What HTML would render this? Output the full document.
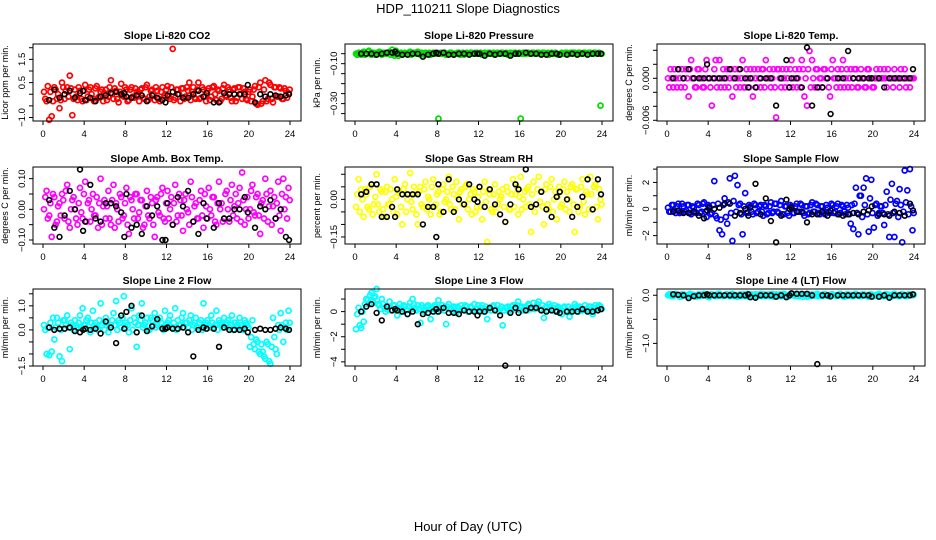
<!DOCTYPE html>
<html><head><meta charset="utf-8"><style>
html,body{margin:0;padding:0;background:#fff}
svg{display:block;font-family:"Liberation Sans",Arial,sans-serif}
</style></head><body>
<svg id="chart" width="936" height="540" viewBox="0 0 936 540">
<rect x="0" y="0" width="936" height="540" fill="#fff"/>
<text x="468" y="13" text-anchor="middle" font-size="13">HDP_110211  Slope Diagnostics</text>
<text x="468" y="531" text-anchor="middle" font-size="13">Hour of Day (UTC)</text>
</svg>
<script>
const hours = [
0.1,0.35,0.6,0.85,1.1,1.35,1.6,1.85,2.1,2.35,2.6,2.85,
3.1,3.35,3.6,3.85,4.1,4.35,4.6,4.85,5.1,5.35,5.6,5.85,
6.1,6.35,6.6,6.85,7.1,7.35,7.6,7.85,8.1,8.35,8.6,8.85,
9.1,9.35,9.6,9.85,10.1,10.35,10.6,10.85,11.1,11.35,11.6,11.85,
12.1,12.35,12.6,12.85,13.1,13.35,13.6,13.85,14.1,14.35,14.6,14.85,
15.1,15.35,15.6,15.85,16.1,16.35,16.6,16.85,17.1,17.35,17.6,17.85,
18.1,18.35,18.6,18.85,19.1,19.35,19.6,19.85,20.1,20.35,20.6,20.85,
21.1,21.35,21.6,21.85,22.1,22.35,22.6,22.85,23.1,23.35,23.6,23.85];
const hours2 = [
0.22,0.47,0.72,0.97,1.22,1.47,1.72,1.97,2.22,2.47,2.72,2.97,
3.22,3.47,3.72,3.97,4.22,4.47,4.72,4.97,5.22,5.47,5.72,5.97,
6.22,6.47,6.72,6.97,7.22,7.47,7.72,7.97,8.22,8.47,8.72,8.97,
9.22,9.47,9.72,9.97,10.22,10.47,10.72,10.97,11.22,11.47,11.72,11.97,
12.22,12.47,12.72,12.97,13.22,13.47,13.72,13.97,14.22,14.47,14.72,14.97,
15.22,15.47,15.72,15.97,16.22,16.47,16.72,16.97,17.22,17.47,17.72,17.97,
18.22,18.47,18.72,18.97,19.22,19.47,19.72,19.97,20.22,20.47,20.72,20.97,
21.22,21.47,21.72,21.97,22.22,22.47,22.72,22.97,23.22,23.47,23.72,23.97];
const blackHours = [
0.6,1.1,1.6,2.1,2.6,3.1,3.6,3.9,4.1,4.6,5.1,5.6,
6.1,6.6,7.1,7.6,7.9,8.1,8.6,9.1,9.6,10.1,10.6,11.1,
11.6,11.9,12.1,12.6,13.1,13.6,14.1,14.6,15.1,15.6,15.9,16.6,
17.1,17.6,18.1,18.6,19.1,19.6,19.9,20.6,21.1,21.6,22.1,22.6,
23.1,23.6,23.9];
const xTicks = [0,4,8,12,16,20,24];

const co2Vals = [
0.1,-0.3,-1.1,-0.95,0.3,-0.2,-0.6,0.5,-0.2,0.3,0.8,-0.9,
0.2,-0.25,0.15,-0.3,0.4,-0.1,0.3,-0.2,0.25,-0.15,0.1,-0.3,
0.2,-0.1,0.6,-0.2,0.15,-0.35,0.45,-0.1,0.2,-0.25,0.3,-0.15,
0.1,-0.3,0.25,-0.2,0.4,-0.1,0.2,-0.25,0.15,-0.3,0.3,-0.05,
0.35,-0.2,1.95,-0.15,0.2,-0.3,0.25,-0.1,0.15,-0.25,0.3,-0.2,
0.5,-0.15,0.2,-0.3,0.25,-0.1,0.35,-0.25,0.15,-0.2,0.4,-0.1,
0.2,-0.3,0.25,-0.15,0.3,-0.2,0.1,-0.25,0.2,-0.1,0.35,-0.45,
0.5,-0.3,0.6,-0.2,0.4,-0.35,0.3,-0.1,0.25,-0.2,0.15,0.05];
const co2Vals2 = [
-0.2,0.35,0.1,-0.3,0.2,0.0,-0.25,0.3,0.15,-0.1,0.25,-0.2,
-0.1,0.3,-0.2,0.15,-0.25,0.2,0.0,-0.3,0.35,-0.1,0.2,0.05,
-0.25,0.3,0.0,0.25,-0.2,0.1,-0.05,0.3,-0.3,0.2,-0.1,0.25,
0.0,0.2,-0.15,0.3,-0.25,0.15,0.0,0.3,-0.2,0.1,-0.15,0.2,
-0.1,0.3,-0.25,0.2,0.0,0.25,-0.2,0.3,0.5,0.1,-0.15,0.2,
-0.2,0.3,-0.1,0.15,-0.25,0.3,0.0,0.2,-0.3,0.25,-0.05,0.3,
-0.15,0.2,-0.3,0.3,0.0,0.25,-0.2,0.1,-0.3,0.2,-0.4,0.3,
-0.4,0.2,-0.3,0.5,-0.2,0.3,-0.1,0.3,-0.2,0.25,-0.15,0.2];
const co2Black = [
-0.25,0.2,-0.15,0.0,0.15,-0.15,0.05,0.15,-0.25,-0.15,-0.3,-0.1,
-0.05,0.05,0.1,0.0,0.05,-0.1,-0.15,-0.05,-0.05,-0.3,-0.05,-0.15,
-0.25,-0.35,-0.05,0.1,0.0,-0.15,-0.15,0.0,0.15,-0.1,0.05,-0.35,
-0.35,0.05,0.0,0.0,0.0,0.0,0.4,-0.35,0.0,-0.1,0.0,-0.05,
-0.1,-0.05,0.0];

const presVals = [
-0.05,-0.045,-0.055,-0.04,-0.05,-0.035,-0.055,-0.045,-0.05,-0.04,-0.055,-0.045,
-0.05,-0.04,-0.03,-0.06,-0.045,-0.05,-0.055,-0.045,-0.05,-0.04,-0.05,-0.045,
-0.04,-0.055,-0.05,-0.045,-0.05,-0.055,-0.045,-0.05,-0.375,-0.045,-0.05,-0.055,
-0.05,-0.045,-0.055,-0.05,-0.045,-0.05,-0.055,-0.045,-0.05,-0.045,-0.05,-0.045,
-0.05,-0.055,-0.045,-0.05,-0.045,-0.05,-0.055,-0.045,-0.05,-0.045,-0.05,-0.055,
-0.045,-0.05,-0.045,-0.05,-0.375,-0.045,-0.05,-0.045,-0.05,-0.045,-0.05,-0.045,
-0.05,-0.045,-0.05,-0.055,-0.045,-0.05,-0.05,-0.055,-0.045,-0.05,-0.045,-0.05,
-0.05,-0.045,-0.05,-0.045,-0.05,-0.045,-0.05,-0.045,-0.05,-0.045,-0.05,-0.31];
const presVals2 = [
-0.055,-0.05,-0.045,-0.055,-0.04,-0.05,-0.045,-0.055,-0.045,-0.05,-0.045,-0.05,
-0.045,-0.055,-0.05,-0.035,-0.06,-0.045,-0.05,-0.05,-0.045,-0.055,-0.045,-0.05,
-0.05,-0.045,-0.055,-0.05,-0.045,-0.05,-0.05,-0.045,-0.05,-0.05,-0.045,-0.05,
-0.045,-0.05,-0.05,-0.045,-0.055,-0.045,-0.05,-0.05,-0.045,-0.05,-0.045,-0.05,
-0.045,-0.05,-0.05,-0.045,-0.05,-0.045,-0.05,-0.05,-0.045,-0.05,-0.045,-0.05,
-0.05,-0.045,-0.05,-0.045,-0.05,-0.05,-0.045,-0.05,-0.045,-0.05,-0.045,-0.05,
-0.045,-0.05,-0.045,-0.05,-0.05,-0.045,-0.055,-0.05,-0.05,-0.045,-0.05,-0.045,
-0.045,-0.05,-0.045,-0.05,-0.045,-0.05,-0.045,-0.05,-0.045,-0.05,-0.045,-0.05];
const presBlack = [
-0.05,-0.05,-0.05,-0.055,-0.05,-0.045,-0.045,-0.04,-0.05,-0.055,-0.055,-0.05,
-0.05,-0.065,-0.055,-0.05,-0.045,-0.05,-0.045,-0.055,-0.055,-0.05,-0.05,-0.055,
-0.05,-0.05,-0.05,-0.06,-0.05,-0.055,-0.05,-0.05,-0.06,-0.05,-0.05,-0.045,
-0.05,-0.05,-0.055,-0.055,-0.05,-0.05,-0.055,-0.055,-0.05,-0.055,-0.05,-0.055,
-0.05,-0.05,-0.05];

const tempVals = [
0,0.0013,-0.0013,0,0.0013,-0.0013,0,0.0013,-0.0026,0.0026,0,-0.0013,
0.0013,0,-0.0013,0.0026,0,-0.0039,0.0013,-0.0013,0.0026,0,-0.0013,0.0013,
0,-0.0026,0.0013,0,-0.0013,0.0026,-0.0013,0,0.0013,-0.0026,0,0.0013,
-0.0013,0.0013,0.0026,0,-0.0013,0.0013,-0.0056,0.0013,-0.0013,0,0.0013,-0.0013,
0.0026,0,-0.0013,0.0013,0.0026,-0.0026,-0.0039,0.0039,0.0026,-0.0013,0.0013,0,
-0.0013,0.0013,0,-0.0026,0.0026,0,0.0013,-0.0013,0.0026,0,-0.0013,0.0013,
0,0.0013,-0.0013,0.0013,0,-0.0013,0.0013,0,-0.0013,0.0013,0,0,
0.0013,-0.0013,0,0,0.0013,0,-0.0013,0,0.0013,0,-0.0013,0];
const tempVals2 = [
-0.0013,0,0.0013,-0.0013,0,0.0013,-0.0013,0,0.0013,0,-0.0013,0.0013,
0,-0.0013,0.0013,0,-0.0013,0,0.0026,0,-0.0013,0.0013,0,-0.0013,
0.0013,0,-0.0013,0.0013,0,-0.0013,0.0013,-0.0013,0,0.0013,-0.0013,0,
0.0013,-0.0013,0,0.0013,0,-0.0013,0.0013,0,0.0013,-0.0013,0,0.0013,
-0.0013,0.0013,0,-0.0013,0.0013,0,0.0013,-0.0013,0,0.0013,-0.0013,0,
0.0013,0,-0.0013,0.0013,0,-0.0013,0,0.0013,-0.0013,0.0013,0,-0.0013,
0.0013,-0.0013,0,0,-0.0013,0.0013,0,-0.0013,0,0,0.0013,0,
0,0.0013,0,-0.0013,0,0,0.0013,0,-0.0013,0,0,0];
const tempBlack = [
0,0.0013,0,0.0013,0,0,0,0.002,0,0,0,0,
0.0013,0,0.0013,0,-0.0013,0,-0.0013,0,0,0,-0.0039,0,
0.0026,-0.0013,0,0,-0.0013,0.0044,-0.0039,-0.0013,-0.0013,0,-0.0051,0,
0,0.0039,0,0,0,0,0,0,-0.0013,0,0,0,
0,0,0.0013];

const ambVals = [
0.0,0.06,-0.02,-0.09,0.04,-0.04,0.02,0.05,-0.03,0.08,-0.06,0.03,
0.0,-0.05,0.07,-0.03,0.09,0.02,-0.04,0.05,-0.02,-0.06,0.10,0.01,
-0.03,0.06,-0.05,0.08,0.02,-0.04,0.04,-0.02,0.07,-0.08,0.03,-0.03,
0.05,-0.01,0.03,-0.05,0.06,-0.03,0.02,-0.09,0.04,-0.02,0.07,-0.04,
0.06,0.0,-0.05,0.08,-0.02,0.03,-0.07,0.05,-0.01,0.09,-0.04,0.02,
-0.03,0.06,-0.06,0.01,0.07,-0.02,0.04,-0.05,0.09,0.02,-0.03,0.06,
-0.04,0.08,0.01,-0.03,0.07,0.12,-0.05,0.04,0.0,0.08,-0.02,0.05,
-0.08,0.03,0.10,-0.04,0.06,0.01,-0.03,0.09,-0.07,0.10,0.04,0.07];
const ambVals2 = [
0.04,-0.03,0.02,0.05,-0.05,0.01,-0.02,0.03,0.06,-0.04,0.0,0.04,
-0.03,0.02,-0.01,0.05,-0.04,0.03,0.0,-0.02,0.04,0.02,-0.05,0.03,
0.01,-0.03,0.03,-0.06,0.0,0.05,-0.03,0.02,-0.05,0.04,0.0,0.05,
-0.03,0.03,-0.06,0.01,-0.02,0.04,-0.05,0.03,-0.01,0.05,-0.03,0.02,
-0.03,0.04,0.02,-0.04,0.05,-0.02,0.03,0.0,-0.05,0.04,0.01,-0.03,
0.03,-0.02,0.05,-0.03,0.0,0.04,-0.04,0.02,0.0,-0.04,0.05,0.0,
0.03,-0.02,0.05,0.02,-0.04,0.03,0.0,-0.03,0.06,-0.01,0.04,-0.02,
0.02,-0.03,0.05,0.01,-0.05,0.04,0.02,-0.02,0.05,0.0,-0.03,0.03];
const ambBlack = [
0.03,-0.06,-0.09,-0.02,0.06,0.0,0.13,-0.07,-0.04,0.08,-0.03,-0.04,
0.02,0.02,0.01,-0.01,-0.09,0.05,-0.06,-0.05,-0.08,0.01,-0.02,0.01,
-0.1,-0.1,0.02,-0.05,0.04,0.01,0.06,-0.04,-0.08,0.02,-0.03,-0.06,
0.02,-0.03,-0.03,0.0,0.0,0.04,-0.01,-0.06,0.01,0.0,0.03,-0.03,
0.0,-0.09,-0.1];

const rhVals = [
-0.03,0.08,0.04,-0.07,0.02,-0.04,0.06,-0.02,0.1,-0.05,0.03,-0.07,
0.05,-0.02,0.0,0.08,-0.06,0.03,-0.1,0.06,0.0,0.105,-0.04,0.02,
-0.1,0.05,-0.03,0.07,0.01,-0.06,0.08,-0.02,0.03,-0.05,0.06,0.0,
0.09,-0.04,0.02,0.07,-0.08,0.04,-0.02,0.06,0.0,-0.06,0.03,-0.03,
0.05,-0.08,0.07,-0.17,0.02,-0.05,0.06,-0.02,0.0,0.04,-0.09,0.03,
-0.04,0.08,0.02,-0.06,0.09,0.0,-0.03,0.05,-0.13,0.07,-0.02,0.09,
0.03,-0.1,0.06,-0.04,0.08,0.0,-0.08,0.05,-0.02,0.07,0.03,-0.05,
0.06,-0.13,0.04,-0.03,0.08,-0.06,0.02,0.09,-0.04,0.06,-0.08,0.0];
const rhVals2 = [
0.02,-0.05,0.0,0.04,-0.03,0.05,-0.06,0.01,-0.02,0.04,-0.04,0.03,
-0.02,0.04,-0.05,0.01,0.03,-0.03,0.04,-0.05,0.02,-0.01,0.05,-0.06,
0.03,-0.02,0.04,-0.04,0.0,0.05,-0.03,0.02,-0.06,0.04,-0.01,0.03,
-0.02,0.05,-0.04,0.01,0.03,-0.02,0.05,-0.04,0.02,0.04,-0.05,0.01,
-0.03,0.03,-0.01,0.04,-0.04,0.02,-0.05,0.03,0.01,-0.03,0.05,-0.04,
0.02,-0.03,0.05,0.01,-0.04,0.03,0.04,-0.02,0.02,-0.05,0.04,-0.01,
-0.03,0.04,-0.02,0.05,-0.05,0.03,0.01,-0.03,0.04,-0.04,0.0,0.05,
-0.02,0.04,-0.05,0.05,-0.01,0.03,-0.04,0.02,0.05,-0.03,0.04,-0.02];
const rhBlack = [
0.02,0.03,0.06,0.06,-0.07,-0.07,-0.03,-0.07,0.04,0.02,0.02,0.02,
0.02,-0.1,-0.03,-0.03,-0.15,0.06,-0.05,0.08,-0.05,0.0,-0.02,0.06,
0.0,-0.01,0.05,-0.03,0.04,-0.02,-0.06,-0.09,-0.02,0.06,0.04,0.12,
-0.03,-0.02,0.03,-0.04,-0.07,0.01,0.03,0.0,-0.07,-0.03,0.01,0.08,
-0.04,0.08,0.02];

const sampleVals = [
0.1,-0.2,0.3,-0.3,0.4,-0.2,0.2,-0.1,0.3,-0.4,0.1,-0.3,
0.3,-0.2,0.5,-0.6,0.2,-0.3,2.1,-0.7,-1.6,-1.9,0.8,-1.1,
2.3,-2.4,2.5,1.8,0.4,-1.9,1.2,-0.3,0.2,-0.4,0.3,-0.2,
0.3,-0.5,0.2,-0.3,0.5,-0.2,0.4,-0.3,0.6,-0.4,0.2,-0.5,
0.2,-0.3,0.4,-0.2,0.3,-0.5,0.2,-0.3,0.5,-0.2,0.3,-0.4,
0.2,-0.4,0.1,-0.3,0.3,-0.2,0.4,-0.3,0.2,-0.4,0.1,-1.1,
-1.5,1.6,-1.9,1.0,1.6,2.3,-1.7,2.2,-1.4,0.4,-0.3,0.2,
-1.2,1.3,-2.1,1.9,-2.1,0.6,1.5,-2.5,2.9,1.4,3.0,-1.6];
const sampleVals2 = [
-0.2,0.3,-0.1,0.2,-0.3,0.4,-0.2,0.3,-0.3,0.2,-0.2,0.4,
-0.3,0.4,-0.2,0.3,-0.4,0.3,-0.5,0.4,-0.8,0.3,-0.6,0.5,
-0.3,0.6,-0.2,0.3,-0.4,0.2,-0.3,0.3,-0.2,0.4,-0.3,0.2,
-0.2,0.3,-0.4,0.2,-0.3,0.4,-0.2,0.3,-0.4,0.2,-0.3,0.3,
-0.3,0.2,-0.2,0.4,-0.3,0.2,-0.4,0.3,-0.2,0.4,-0.3,0.2,
-0.3,0.3,-0.2,0.4,-0.3,0.2,-0.4,0.3,-0.2,0.3,-0.4,0.3,
0.4,-0.3,1.0,-0.6,0.3,-0.4,0.8,-0.3,0.3,-0.5,0.2,-0.3,
0.3,-0.4,0.7,-0.3,0.4,-0.6,0.3,-0.2,0.5,-0.4,0.2,-0.3];
const sampleBlack = [
-0.2,-0.1,-0.3,-0.3,-0.2,-0.5,-0.7,-0.1,0.1,0.0,0.1,0.4,
0.4,-0.5,-0.3,0.0,-0.5,0.1,1.9,-0.4,0.8,-0.9,-2.5,-0.5,
0.7,0.0,0.1,-0.2,-0.2,-1.0,-0.4,-0.4,-0.2,-0.5,-0.1,-0.4,
-0.5,-0.4,-0.3,-0.4,-0.2,-0.1,0.2,-0.4,-0.4,-0.5,-0.2,-0.3,
-0.5,0.4,-0.1];

const line2Vals = [
0.2,-1.0,-1.05,-0.9,-0.4,0.5,-1.1,-1.3,0.4,0.6,-0.8,0.2,
0.4,0.1,0.6,0.9,0.2,0.5,-0.1,0.8,0.3,0.0,1.1,0.3,
0.5,-0.1,0.2,0.7,1.2,0.4,0.1,1.4,0.3,-0.1,0.9,0.5,
-0.7,0.6,1.1,0.2,0.5,0.0,0.4,0.7,0.2,0.5,0.1,0.8,
0.3,0.6,0.1,0.9,0.4,0.2,0.7,0.3,0.1,0.6,0.2,0.5,
0.1,0.4,1.1,0.3,0.2,0.6,0.1,0.8,0.4,0.2,0.5,0.3,
0.1,0.6,0.3,0.2,0.5,0.1,0.4,0.2,-0.7,0.4,-0.8,-0.5,
-1.0,-0.9,-1.2,-0.6,-1.4,0.5,-0.8,0.2,0.7,-0.5,0.3,0.8];
const line2Vals2 = [
0.0,0.1,0.3,0.5,0.1,0.3,0.0,0.4,0.2,0.1,0.3,0.0,
0.2,0.3,0.1,0.2,0.4,0.0,0.3,0.2,0.1,0.4,0.2,0.0,
0.3,0.1,0.4,0.2,0.0,0.3,0.5,0.1,0.2,0.4,0.0,0.3,
0.2,0.4,0.1,0.3,0.0,0.5,0.2,0.1,0.4,0.3,0.0,0.2,
0.4,0.1,0.3,0.0,0.2,0.5,0.1,0.3,0.4,0.0,0.3,0.1,
0.3,0.0,0.2,0.4,0.1,0.3,0.2,0.0,0.3,0.1,0.2,0.4,
0.2,0.0,0.3,0.1,0.2,0.0,0.3,0.1,-0.3,-0.6,-0.4,-0.9,
-0.6,-1.1,-0.5,-1.3,-0.7,-0.3,-1.0,0.0,0.2,0.1,0.0,0.3];
const line2Black = [
0.1,0.0,0.05,0.05,0.1,-0.05,-0.1,0.0,0.05,0.0,0.05,-0.15,
0.35,0.1,-0.55,0.6,0.05,0.75,1.0,-0.1,0.6,-0.05,0.15,0.45,
0.05,0.05,0.1,0.05,0.05,0.1,-0.1,-1.1,0.0,0.1,0.05,0.05,
-0.7,0.1,0.0,0.0,0.0,0.05,-0.1,0.0,0.05,0.0,0.0,0.05,
0.1,0.05,0.0];

const line3Vals = [
-1.4,0.3,-1.3,-0.8,1.0,0.6,1.5,1.1,1.8,0.5,1.0,0.3,
0.2,0.8,0.1,0.5,-0.3,0.6,0.2,0.4,-0.2,0.7,1.0,0.3,
0.5,-0.9,0.3,0.1,0.5,-0.6,0.2,0.4,0.9,0.1,0.3,-1.0,
0.6,0.2,0.4,-0.1,0.3,0.5,0.1,0.4,0.0,0.3,0.6,0.2,
0.1,0.5,0.2,-0.6,0.3,0.4,0.1,0.5,0.2,-1.1,0.3,0.4,
0.1,0.5,0.2,0.8,0.3,0.1,0.4,0.6,0.2,0.7,0.3,0.8,
0.1,-0.5,0.4,0.6,0.2,0.5,0.1,0.3,-0.2,0.4,0.1,-0.4,
0.3,0.6,0.2,0.4,0.1,0.5,0.2,0.4,-0.2,0.5,0.3,0.4];
const line3Vals2 = [
-0.2,-1.1,0.0,0.6,0.9,1.3,0.8,1.2,0.6,0.2,0.6,0.0,
0.4,0.1,0.5,0.2,0.3,0.0,0.5,0.1,0.4,0.2,0.6,0.1,
0.2,0.5,0.0,0.4,0.2,0.3,0.5,0.0,0.3,0.5,0.1,0.4,
0.2,0.0,0.3,0.4,0.1,0.2,0.5,0.0,0.4,0.1,0.2,0.5,
0.3,0.0,0.4,0.2,0.1,0.5,0.2,0.0,0.4,0.1,0.3,0.0,
0.4,0.2,0.5,0.1,0.4,0.3,0.1,0.5,0.3,0.2,0.6,0.2,
0.5,0.3,0.1,0.4,0.3,0.0,0.4,0.2,0.3,0.0,0.4,0.1,
0.2,0.4,0.0,0.3,0.2,0.1,0.4,0.0,0.3,0.2,0.5,0.2];
const line3Black = [
0.0,0.4,0.6,-0.1,-0.7,0.4,0.1,0.2,0.1,0.0,-0.2,0.0,
-1.0,-0.2,-0.1,0.0,0.2,0.0,0.3,-0.1,-0.1,-0.2,0.1,0.0,
0.0,-0.3,0.0,0.0,0.3,0.1,-0.3,-4.3,-0.1,0.3,-0.1,0.1,
0.3,0.3,0.1,0.0,0.1,0.0,-0.1,0.0,0.0,0.0,0.2,0.0,
0.0,0.1,0.2];

const line4Vals = [
0.0,0.02,-0.02,0.03,0.0,-0.03,0.02,0.0,-0.02,0.02,0.01,-0.03,
0.02,-0.01,0.03,0.0,-0.04,0.02,0.01,-0.02,0.03,0.0,-0.01,0.02,
-0.02,0.03,0.0,-0.03,0.02,0.01,-0.02,0.03,0.0,-0.02,0.02,-0.01,
0.03,0.0,-0.02,0.02,0.01,-0.03,0.02,0.0,-0.02,0.03,0.01,-0.02,
0.02,0.0,0.03,-0.02,0.01,0.02,-0.03,0.0,0.02,-0.01,0.03,0.0,
-0.02,0.02,0.01,-0.03,0.02,0.0,-0.01,0.03,0.0,-0.02,0.02,0.01,
-0.02,0.03,0.0,-0.02,0.02,0.01,-0.03,0.02,0.0,-0.01,0.03,0.0,
-0.02,0.02,0.01,-0.02,0.03,0.0,-0.02,0.02,0.01,-0.01,0.02,0.0];
const line4Vals2 = [
0.02,-0.02,0.0,0.01,-0.03,0.02,0.0,-0.02,0.03,0.0,-0.02,0.01,
-0.02,0.02,0.0,-0.03,0.02,0.0,-0.02,0.03,0.0,-0.02,0.02,0.0,
0.02,-0.02,0.01,0.0,-0.02,0.02,0.0,-0.03,0.02,0.0,-0.02,0.02,
-0.02,0.02,0.0,-0.02,0.03,0.0,-0.02,0.02,0.01,-0.02,0.0,0.02,
0.0,-0.02,0.02,0.0,-0.03,0.0,0.02,-0.02,0.0,0.02,-0.02,0.01,
0.02,0.0,-0.02,0.02,0.0,-0.02,0.02,0.0,-0.03,0.02,0.0,-0.02,
0.02,0.0,-0.02,0.02,0.0,-0.02,0.02,0.0,-0.02,0.02,0.0,-0.02,
0.02,0.0,-0.02,0.02,0.0,-0.02,0.02,0.0,-0.02,0.02,0.0,0.01];
const line4Black = [
0.02,0.01,0.0,-0.06,-0.02,0.0,0.0,0.02,0.0,0.0,0.0,0.0,
0.0,0.0,0.0,0.0,0.02,-0.04,-0.05,0.0,0.0,0.0,-0.03,0.0,
-0.04,0.0,0.04,0.03,0.03,0.03,0.0,-1.43,0.0,0.0,-0.02,0.0,
0.0,0.0,0.0,0.0,0.0,0.0,-0.03,-0.03,0.0,-0.05,0.0,0.0,
0.0,0.0,0.02];

const panels = [
 {name:'co2',title:'Slope Li-820 CO2',ylab:'Licor ppm per min.',color:'#ff0000',col:0,row:0,ymin:-1.15,ymax:2.16,ticks:[-1,-0.5,0,0.5,1,1.5,2],labels:[[-1,'\u22121.0'],[0.5,'0.5'],[1.5,'1.5']],vals:co2Vals,vals2:co2Vals2,blk:co2Black},
 {name:'pressure',title:'Slope Li-820 Pressure',ylab:'kPa per min.',color:'#00dd00',col:1,row:0,ymin:-0.387,ymax:-0.0015,ticks:[-0.05,-0.1,-0.15,-0.2,-0.25,-0.3,-0.35],labels:[[-0.1,'\u22120.10'],[-0.3,'\u22120.30']],vals:presVals,vals2:presVals2,blk:presBlack},
 {name:'temp',title:'Slope Li-820 Temp.',ylab:'degrees C per min.',color:'#ff00ff',col:2,row:0,ymin:-0.0061,ymax:0.0049,ticks:[0.004,0.002,0,-0.002,-0.004,-0.006],labels:[[0,'0.000'],[-0.006,'\u22120.006']],vals:tempVals,vals2:tempVals2,blk:tempBlack},
 {name:'amb-box-temp',title:'Slope Amb. Box Temp.',ylab:'degrees C per min.',color:'#ff00ff',col:0,row:1,ymin:-0.113,ymax:0.138,ticks:[-0.1,-0.05,0,0.05,0.1],labels:[[-0.1,'\u22120.10'],[0,'0.00'],[0.1,'0.10']],vals:ambVals,vals2:ambVals2,blk:ambBlack},
 {name:'gas-stream-rh',title:'Slope Gas Stream RH',ylab:'percent per min.',color:'#ffff00',col:1,row:1,ymin:-0.178,ymax:0.129,ticks:[-0.15,-0.1,-0.05,0,0.05,0.1],labels:[[-0.15,'\u22120.15'],[0,'0.00']],vals:rhVals,vals2:rhVals2,blk:rhBlack},
 {name:'sample-flow',title:'Slope Sample Flow',ylab:'ml/min per min.',color:'#0000ff',col:2,row:1,ymin:-2.63,ymax:3.16,ticks:[-2,-1,0,1,2,3],labels:[[-2,'\u22122'],[0,'0'],[2,'2']],vals:sampleVals,vals2:sampleVals2,blk:sampleBlack},
 {name:'line2-flow',title:'Slope Line 2 Flow',ylab:'ml/min per min.',color:'#00ffff',col:0,row:2,ymin:-1.5,ymax:1.70,ticks:[-1.5,-1,-0.5,0,0.5,1,1.5],labels:[[-1.5,'\u22121.5'],[0,'0.0'],[1,'1.0']],vals:line2Vals,vals2:line2Vals2,blk:line2Black},
 {name:'line3-flow',title:'Slope Line 3 Flow',ylab:'ml/min per min.',color:'#00ffff',col:1,row:2,ymin:-4.33,ymax:1.8,ticks:[-4,-3,-2,-1,0,1],labels:[[-4,'\u22124'],[-2,'\u22122'],[0,'0']],vals:line3Vals,vals2:line3Vals2,blk:line3Black},
 {name:'line4-flow',title:'Slope Line 4 (LT) Flow',ylab:'ml/min per min.',color:'#00ffff',col:2,row:2,ymin:-1.47,ymax:0.13,ticks:[0,-0.5,-1],labels:[[0,'0.0'],[-1,'\u22121.0']],vals:line4Vals,vals2:line4Vals2,blk:line4Black}
];

const NS='http://www.w3.org/2000/svg';
const svg=document.getElementById('chart');
const colLeft=[33,345,657], rowTop=[44,167,289], boxW=268, boxH=77;
function mk(tag,attrs,parent){const e=document.createElementNS(NS,tag);for(const k in attrs)e.setAttribute(k,attrs[k]);(parent||svg).appendChild(e);return e;}

panels.forEach(p=>{
  const L=colLeft[p.col], T=rowTop[p.row], B=T+boxH;
  const xs=h=>L+10+h*(247/24);
  const ys=v=>T+(p.ymax-v)/(p.ymax-p.ymin)*boxH;
  const g=mk('g',{});
  
  
  const t=mk('text',{x:L+boxW/2,y:T-5,'text-anchor':'middle','font-size':'10.5','font-weight':'bold'},g);
  t.textContent=p.title;
  
  
  const yl=mk('text',{x:0,y:0,'text-anchor':'middle','font-size':'9',transform:`translate(${L-25},${T+boxH/2}) rotate(-90)`},g);
  yl.textContent=p.ylab;
  
  
  const pg=mk('g',{},g);
  
  
  const n=Math.min(hours.length,p.vals.length);
  for(let i=0;i<n;i++){
    const c=mk('circle',{cx:xs(hours[i]).toFixed(1),cy:ys(p.vals[i]).toFixed(1),r:2.5,fill:'none',stroke:p.color,'stroke-width':1.7},pg);
    
    
  }
  const n2=Math.min(hours2.length,p.vals2.length);
  for(let i=0;i<n2;i++){
    const c=mk('circle',{cx:xs(hours2[i]).toFixed(1),cy:ys(p.vals2[i]).toFixed(1),r:2.5,fill:'none',stroke:p.color,'stroke-width':1.7},pg);
    
    
  }
  const m=Math.min(blackHours.length,p.blk.length);
  for(let i=0;i<m;i++){
    const c=mk('circle',{cx:xs(blackHours[i]).toFixed(1),cy:ys(p.blk[i]).toFixed(1),r:2.4,fill:'none',stroke:'#000','stroke-width':1.6},pg);
    
    
  }
  const box=mk('rect',{x:L,y:T,width:boxW,height:boxH,fill:'none',stroke:'#000','stroke-width':1},g);
  
  
  const xa=mk('g',{},g);
  
  
  xTicks.forEach(h=>{
    mk('line',{x1:xs(h),x2:xs(h),y1:B,y2:B+4,stroke:'#000'},xa);
    const tx=mk('text',{x:xs(h),y:B+16,'text-anchor':'middle','font-size':'9.5'},xa);
    tx.textContent=h;
  });
  const ya=mk('g',{},g);
  
  
  p.ticks.forEach(v=>{const y=ys(v);mk('line',{x1:L-4,x2:L,y1:y,y2:y,stroke:'#000'},ya);});
  p.labels.forEach(([v,s])=>{
    const tx=mk('text',{x:0,y:0,'text-anchor':'middle','font-size':'9.5',transform:`translate(${L-8},${ys(v)}) rotate(-90)`},ya);
    tx.textContent=s;
  });
});
</script>
</body></html>
